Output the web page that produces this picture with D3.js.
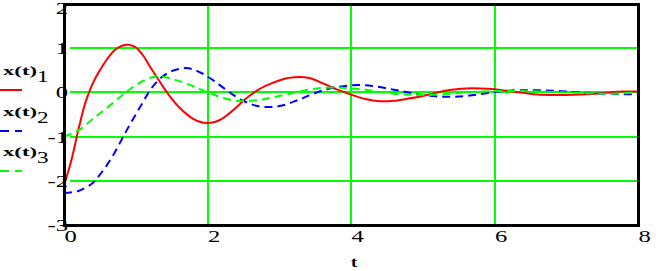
<!DOCTYPE html>
<html>
<head>
<meta charset="utf-8">
<script src="https://cdn.jsdelivr.net/npm/d3@7/dist/d3.min.js"></script>
<style>
  html, body { margin: 0; padding: 0; background: #fff; }
  svg { display: block; }
</style>
</head>
<body>
<div id="chart"></div>
<script>
// time axis ticks and value axis ticks
var xTicks = [0, 2, 4, 6, 8];
var yTicks = [2, 1, 0, -1, -2, -3];

// x(t)1 - red solid
var t1 = [0, 0.1, 0.2, 0.3, 0.4, 0.5, 0.6, 0.7, 0.8, 0.9, 1.0, 1.1, 1.2, 1.3, 1.4, 1.5, 1.6, 1.7, 1.8, 1.9,
          2.0, 2.1, 2.2, 2.3, 2.4, 2.5, 2.6, 2.7, 2.8, 2.9, 3.0, 3.1, 3.2, 3.3, 3.4, 3.5, 3.6, 3.7, 3.8, 3.9,
          4.0, 4.2, 4.4, 4.6, 4.8, 5.0, 5.2, 5.4, 5.6, 5.8, 6.0, 6.2, 6.4, 6.6, 6.8, 7.0, 7.2, 7.4, 7.6, 7.8, 8.0];
var x1 = [-2.1, -1.55, -0.85, -0.22, 0.2, 0.5, 0.75, 0.95, 1.05, 1.08, 1.02, 0.84, 0.58, 0.33, 0.08, -0.14, -0.33, -0.48, -0.6, -0.67,
          -0.69, -0.67, -0.6, -0.48, -0.34, -0.19, -0.06, 0.05, 0.14, 0.21, 0.27, 0.32, 0.34, 0.35, 0.33, 0.28, 0.21, 0.14, 0.07, 0.01,
          -0.05, -0.15, -0.2, -0.19, -0.14, -0.08, 0.0, 0.06, 0.09, 0.09, 0.07, 0.03, -0.01, -0.05, -0.06, -0.06, -0.05, -0.03, 0.0, 0.02, 0.02];

// x(t)2 - blue dashed
var t2 = [0, 0.2, 0.4, 0.5, 0.6, 0.7, 0.8, 0.9, 1.0, 1.1, 1.2, 1.3, 1.4, 1.5, 1.6, 1.7, 1.8, 1.9,
          2.0, 2.1, 2.2, 2.3, 2.4, 2.5, 2.6, 2.7, 2.8, 2.9, 3.0, 3.1, 3.2, 3.3, 3.4, 3.6, 3.8,
          4.0, 4.2, 4.4, 4.6, 4.8, 5.0, 5.2, 5.4, 5.6, 5.8, 6.0, 6.2, 6.4, 6.6, 6.8, 7.0, 7.2, 7.4, 7.6, 7.8, 8.0];
var x2 = [-2.28, -2.23, -2.05, -1.86, -1.64, -1.38, -1.08, -0.78, -0.5, -0.22, 0.05, 0.25, 0.39, 0.48, 0.53, 0.55, 0.52, 0.45,
          0.36, 0.25, 0.13, 0.01, -0.1, -0.19, -0.26, -0.31, -0.33, -0.33, -0.31, -0.27, -0.21, -0.15, -0.08, 0.04, 0.12,
          0.16, 0.16, 0.12, 0.06, 0.0, -0.06, -0.09, -0.1, -0.08, -0.04, 0.01, 0.04, 0.05, 0.05, 0.04, 0.02, 0.0, -0.02, -0.03, -0.04, -0.04];

// x(t)3 - green dashed
var t3 = [0, 0.2, 0.4, 0.6, 0.8, 0.9, 1.0, 1.1, 1.2, 1.3, 1.4, 1.5, 1.6, 1.7, 1.8, 1.9,
          2.0, 2.1, 2.2, 2.4, 2.6, 2.8, 3.0, 3.2, 3.4, 3.6, 3.8,
          4.0, 4.2, 4.4, 4.6, 4.8, 5.0, 5.2, 5.4, 5.6, 5.8, 6.0, 6.4, 6.8, 7.2, 7.6, 8.0];
var x3 = [-1.0, -0.86, -0.6, -0.35, -0.08, 0.05, 0.16, 0.26, 0.33, 0.36, 0.35, 0.31, 0.26, 0.2, 0.14, 0.07,
          0.0, -0.06, -0.12, -0.19, -0.19, -0.15, -0.08, -0.01, 0.06, 0.1, 0.11,
          0.09, 0.06, 0.01, -0.03, -0.05, -0.06, -0.05, -0.03, 0.0, 0.02, 0.03, 0.03, 0.01, -0.01, -0.03, 0.0];

var seriesNames = ['1', '2', '3'];

var W = 656, H = 271;
var plotLeft = 64, plotRight = 638, plotTop = 4, plotBottom = 225;

var svg = d3.select('#chart')
  .append('svg')
  .attr('width', W)
  .attr('height', H);

var x = d3.scaleLinear().domain([0, 8]).range([plotLeft, plotRight]);
var y = d3.scaleLinear().domain([-3, 2]).range([plotBottom, plotTop]);

var green = '#00ff00';

// grid
svg.append('g')
  .selectAll('line')
  .data(yTicks.filter(d => d > -3 && d < 2))
  .join('line')
  .attr('x1', plotLeft + 6).attr('x2', plotRight)
  .attr('y1', d => y(d)).attr('y2', d => y(d))
  .attr('stroke', green).attr('stroke-width', 2)
  .attr('shape-rendering', 'crispEdges');

svg.append('g')
  .selectAll('line')
  .data(xTicks.filter(d => d > 0 && d < 8))
  .join('line')
  .attr('x1', d => x(d)).attr('x2', d => x(d))
  .attr('y1', plotTop).attr('y2', plotBottom)
  .attr('stroke', green).attr('stroke-width', 2)
  .attr('shape-rendering', 'crispEdges');

// traces
svg.append('clipPath').attr('id', 'plot')
  .append('rect')
  .attr('x', plotLeft).attr('y', plotTop)
  .attr('width', plotRight - plotLeft).attr('height', plotBottom - plotTop);

var line = d3.line()
  .x(d => x(d[0]))
  .y(d => y(d[1]))
  .curve(d3.curveCatmullRom);

var traces = [
  { t: t1, v: x1, color: '#ff0000', dash: null },
  { t: t2, v: x2, color: '#0000ff', dash: '8,5' },
  { t: t3, v: x3, color: '#00ff00', dash: '8,5' }
];

traces.forEach(function(s) {
  svg.append('path')
    .datum(d3.zip(s.t, s.v))
    .attr('clip-path', 'url(#plot)')
    .attr('fill', 'none')
    .attr('stroke', s.color)
    .attr('stroke-width', 2)
    .attr('stroke-dasharray', s.dash)
    .attr('d', line);
});

// frame
svg.append('rect')
  .attr('x', plotLeft).attr('y', plotTop)
  .attr('width', plotRight - plotLeft).attr('height', plotBottom - plotTop)
  .attr('fill', 'none')
  .attr('stroke', '#000')
  .attr('stroke-width', 3)
  .attr('shape-rendering', 'crispEdges');

// y tick labels
svg.append('g')
  .selectAll('text')
  .data(yTicks)
  .join('text')
  .attr('transform', d => 'translate(68,' + Math.max(y(d), 8) + ') scale(1.45,1)')
  .attr('text-anchor', 'end')
  .attr('dy', '0.35em')
  .style('font-family', '"Liberation Serif", serif')
  .style('font-size', '17px')
  .text(d => d < 0 ? '-' + Math.abs(d) : d);

// x tick labels
svg.append('g')
  .selectAll('text')
  .data(xTicks)
  .join('text')
  .attr('transform', d => 'translate(' + (x(d) + 0.5) + ',242) scale(1.45,1)')
  .attr('text-anchor', 'start')
  .style('font-family', '"Liberation Serif", serif')
  .style('font-size', '17px')
  .text(d => d);

// axis title
svg.append('text')
  .attr('transform', 'translate(' + x(4) + ',267) scale(1.3,1)')
  .style('font-family', '"Liberation Serif", serif')
  .style('font-size', '14px')
  .style('font-weight', 'bold')
  .text('t');

// legend
var legendTop = [75, 116, 156];
var legendLine = [90, 131, 171];

traces.forEach(function(s, i) {
  var g = svg.append('g');
  g.append('text')
    .attr('x', 3).attr('y', legendTop[i])
    .attr('textLength', 34)
    .attr('lengthAdjust', 'spacingAndGlyphs')
    .style('font-family', '"Liberation Serif", serif')
    .style('font-size', '13px')
    .style('font-weight', 'bold')
    .text('x(t)');
  g.append('text')
    .attr('transform', 'translate(37,' + (legendTop[i] + 7) + ') scale(1.45,1)')
    .style('font-family', '"Liberation Serif", serif')
    .style('font-size', '16px')
    .text(seriesNames[i]);
  g.append('line')
    .attr('x1', 0).attr('x2', 22)
    .attr('y1', legendLine[i]).attr('y2', legendLine[i])
    .attr('stroke', s.color)
    .attr('stroke-width', 2)
    .attr('stroke-dasharray', s.dash ? '9,6' : null);
});
</script>
</body>
</html>
